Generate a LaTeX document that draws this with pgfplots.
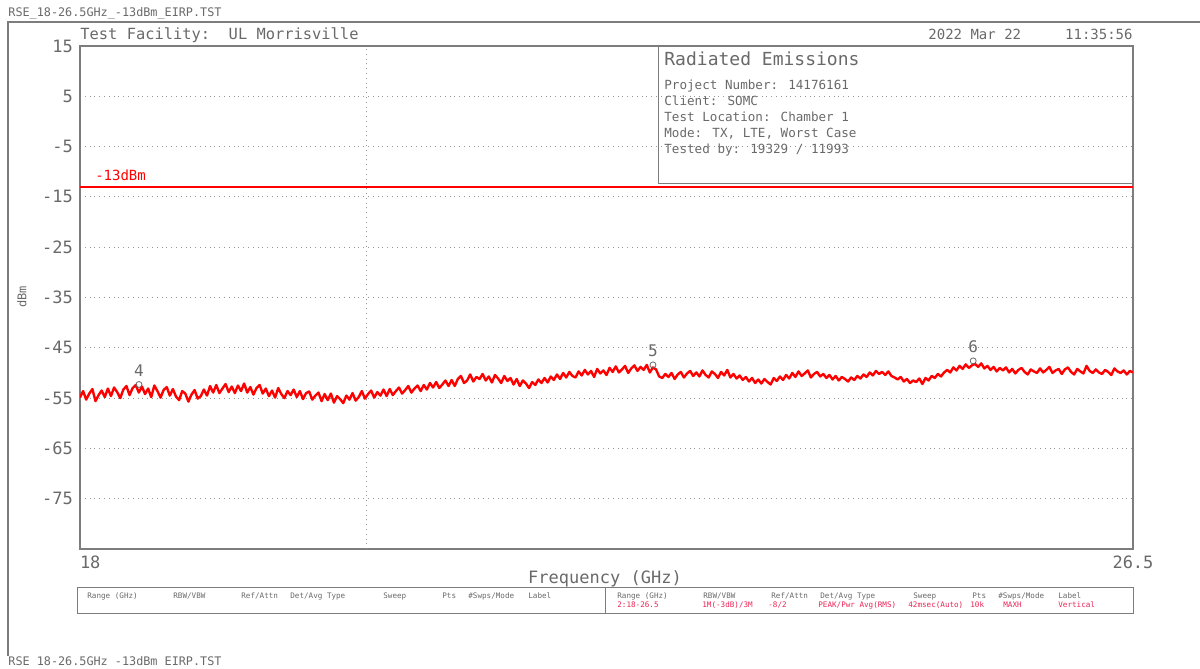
\documentclass[border=0pt]{standalone}
\usepackage{pgfplots}
\pgfplotsset{compat=1.18}
\usepackage{pgfplotstable}
\usepackage{fontspec}
\setmainfont{DejaVu Sans Mono}
\definecolor{txtgray}{RGB}{105,105,105}
\definecolor{framegray}{RGB}{125,125,125}
\definecolor{gridgray}{RGB}{150,150,150}
\definecolor{tblred}{RGB}{235,35,85}
\definecolor{tracered}{RGB}{255,0,0}

\pgfplotstableread[row sep=\\]{
v\\
-54.9\\ -53.6\\ -55.3\\ -54.1\\ -53.2\\ -55.6\\ -54.4\\ -53.5\\ -54.8\\ -53.1\\
-54.6\\ -52.9\\ -53.8\\ -55.0\\ -53.3\\ -52.6\\ -54.4\\ -53.0\\ -52.4\\ -53.9\\
-52.7\\ -54.2\\ -53.1\\ -54.8\\ -52.5\\ -53.6\\ -54.9\\ -53.4\\ -52.8\\ -54.5\\
-53.2\\ -54.7\\ -55.4\\ -53.6\\ -54.1\\ -55.7\\ -54.3\\ -53.4\\ -55.1\\ -54.6\\
-53.3\\ -54.5\\ -52.6\\ -53.9\\ -52.4\\ -54.0\\ -53.1\\ -52.2\\ -53.8\\ -52.7\\
-54.0\\ -52.5\\ -53.6\\ -52.1\\ -53.9\\ -52.8\\ -54.3\\ -53.0\\ -52.4\\ -54.1\\
-53.1\\ -54.6\\ -53.5\\ -54.9\\ -53.0\\ -54.2\\ -55.0\\ -53.6\\ -54.4\\ -53.3\\
-54.8\\ -53.6\\ -55.2\\ -54.0\\ -53.7\\ -55.3\\ -54.5\\ -53.9\\ -55.6\\ -54.2\\
-55.4\\ -54.1\\ -55.9\\ -54.6\\ -55.2\\ -56.0\\ -54.5\\ -55.3\\ -54.0\\ -55.5\\
-54.8\\ -53.6\\ -55.1\\ -54.2\\ -53.5\\ -54.9\\ -53.8\\ -54.5\\ -53.3\\ -54.6\\
-53.2\\ -54.4\\ -53.6\\ -52.9\\ -54.1\\ -53.4\\ -52.6\\ -53.9\\ -53.1\\ -52.5\\
-53.6\\ -52.4\\ -53.3\\ -52.0\\ -52.9\\ -51.8\\ -53.0\\ -52.3\\ -51.5\\ -52.6\\
-51.4\\ -52.6\\ -51.2\\ -50.6\\ -52.0\\ -51.5\\ -50.3\\ -51.7\\ -50.8\\ -51.2\\
-50.2\\ -51.5\\ -50.7\\ -51.9\\ -50.4\\ -51.1\\ -52.0\\ -50.6\\ -51.6\\ -51.0\\
-52.3\\ -51.2\\ -52.6\\ -51.5\\ -52.1\\ -53.0\\ -51.8\\ -52.4\\ -51.3\\ -52.0\\
-51.0\\ -51.9\\ -50.7\\ -51.4\\ -50.3\\ -51.2\\ -50.0\\ -50.9\\ -49.8\\ -50.6\\
-50.9\\ -49.7\\ -50.5\\ -49.4\\ -50.3\\ -49.6\\ -50.8\\ -49.2\\ -50.1\\ -49.5\\
-50.4\\ -49.0\\ -49.8\\ -48.7\\ -49.9\\ -49.3\\ -48.6\\ -50.0\\ -49.1\\ -48.5\\
-49.6\\ -48.8\\ -49.4\\ -48.4\\ -49.9\\ -48.9\\ -49.3\\ -50.7\\ -51.0\\ -50.2\\
-50.8\\ -50.0\\ -51.2\\ -50.3\\ -49.8\\ -50.9\\ -50.1\\ -49.6\\ -50.6\\ -49.9\\
-50.7\\ -49.5\\ -50.4\\ -50.9\\ -49.7\\ -50.2\\ -51.0\\ -49.8\\ -50.5\\ -49.4\\
-50.9\\ -50.2\\ -51.1\\ -50.5\\ -51.4\\ -50.8\\ -51.7\\ -51.0\\ -52.0\\ -51.3\\
-52.1\\ -51.2\\ -51.8\\ -52.3\\ -51.0\\ -51.6\\ -50.7\\ -51.4\\ -50.4\\ -51.1\\
-50.0\\ -50.8\\ -49.7\\ -50.6\\ -50.1\\ -49.5\\ -50.9\\ -50.2\\ -49.8\\ -50.7\\
-50.2\\ -51.0\\ -50.4\\ -51.3\\ -50.6\\ -51.5\\ -50.8\\ -51.2\\ -51.7\\ -50.9\\
-51.4\\ -50.6\\ -51.1\\ -50.3\\ -50.8\\ -49.9\\ -50.5\\ -49.6\\ -50.2\\ -49.8\\
-50.4\\ -49.7\\ -50.6\\ -50.9\\ -51.3\\ -50.8\\ -51.7\\ -51.2\\ -52.0\\ -51.5\\
-51.8\\ -51.1\\ -52.2\\ -51.0\\ -51.5\\ -50.6\\ -51.0\\ -50.2\\ -50.7\\ -49.9\\
-49.4\\ -49.9\\ -48.9\\ -49.5\\ -48.6\\ -49.2\\ -48.3\\ -49.0\\ -48.5\\ -48.2\\
-48.8\\ -48.1\\ -49.1\\ -48.6\\ -49.4\\ -48.8\\ -49.7\\ -49.0\\ -49.5\\ -48.9\\
-49.9\\ -49.2\\ -50.1\\ -49.4\\ -49.0\\ -49.8\\ -50.3\\ -49.3\\ -49.7\\ -50.0\\
-49.1\\ -49.9\\ -49.4\\ -48.8\\ -50.0\\ -49.5\\ -49.2\\ -50.2\\ -49.3\\ -48.9\\
-49.8\\ -50.3\\ -49.2\\ -49.7\\ -50.1\\ -48.6\\ -49.6\\ -50.0\\ -49.3\\ -49.9\\
-50.2\\ -49.4\\ -49.8\\ -50.4\\ -49.1\\ -49.7\\ -50.0\\ -49.5\\ -50.3\\ -49.6\\ -49.9\\
}\trace

\begin{document}
\begin{tikzpicture}
\useasboundingbox (0,0) rectangle (600pt,334.5pt);
\begin{axis}[
  at={(40pt,60pt)}, anchor=south west, scale only axis,
  width=526.5pt, height=251.5pt,
  xmin=18, xmax=26.5, ymin=-85, ymax=15,
  xtick={18,26.5}, xticklabels={\makebox[0pt][l]{18},26.5},
  ytick={15,5,-5,-15,-25,-35,-45,-55,-65,-75},
  ymajorgrids,
  extra x ticks={20.31}, extra x tick labels={}, extra x tick style={grid=major},
  major tick length=0pt,
  grid style={dotted, gridgray, line width=0.5pt},
  axis line style={framegray, line width=0.6pt},
  tick label style={font=\fontsize{8.5}{10}\selectfont, text=txtgray},
  /pgf/number format/assume math mode=true,
  clip=true,
]
\addplot[tracered, line width=1.2pt, line join=round] table[x expr={18+\coordindex*0.025}, y=v] {\trace};
\addplot[tracered, line width=1.1pt] coordinates {(18,-13) (26.5,-13)};
\addplot[only marks, mark=o, mark size=1.5pt, txtgray, mark options={line width=0.4pt},
  nodes near coords, point meta=explicit symbolic,
  nodes near coords style={font=\fontsize{8}{9}\selectfont, text=txtgray, anchor=south, yshift=0.5pt}]
  coordinates {(18.476,-52.3)[4] (22.625,-48.4)[5] (25.21,-47.6)[6]};
\node[anchor=base west, text=tracered, font=\fontsize{7}{8}\selectfont, inner sep=0pt] at (axis cs:18.12,-11.7) {-13dBm};
\draw[framegray, line width=0.6pt] (axis cs:22.673,-12.4) -- (axis cs:22.673,15);
\draw[framegray, line width=0.6pt] (axis cs:22.673,-12.4) -- (axis cs:26.5,-12.4);
\end{axis}
\begin{scope}[x=0.5pt, y=-0.5pt, shift={(0pt,334.5pt)}]
  \draw[framegray, line width=0.6pt] (8,656) -- (8,22) -- (1200,22);
  \node[anchor=base west, inner sep=0pt, text=txtgray, font=\fontsize{5.9}{7}\selectfont] at (8,17) {RSE\_18-26.5GHz\_-13dBm\_EIRP.TST};
  \node[anchor=base west, inner sep=0pt, text=txtgray, font=\fontsize{5.9}{7}\selectfont] at (8,666) {RSE 18-26.5GHz -13dBm EIRP.TST};
  \node[anchor=base west, inner sep=0pt, text=txtgray, font=\fontsize{7.7}{9}\selectfont] at (80,39.5) {Test Facility:~~UL Morrisville};
  \node[anchor=base west, inner sep=0pt, text=txtgray, font=\fontsize{7}{9}\selectfont] at (928,39.5) {2022 Mar 22};
  \node[anchor=base east, inner sep=0pt, text=txtgray, font=\fontsize{7}{9}\selectfont] at (1133,39.5) {11:35:56};
  \node[anchor=base west, inner sep=0pt, text=txtgray, font=\fontsize{9}{10}\selectfont] at (664,66) {Radiated Emissions};
  \foreach \yy/\tt in {89.5/{Project Number: 14176161},105.5/{Client: SOMC},121.5/{Test Location: Chamber 1},137.5/{Mode: TX, LTE, Worst Case},153.5/{Tested by: 19329 / 11993}}
    \node[anchor=base west, inner sep=0pt, text=txtgray, font=\fontsize{6.3}{7}\selectfont] at (664,\yy) {\tt};
  \node[rotate=90, inner sep=0pt, text=txtgray, font=\fontsize{6}{7}\selectfont] at (22,297) {dBm};
  \node[anchor=base, inner sep=0pt, text=txtgray, font=\fontsize{8.5}{10}\selectfont] at (605,584) {Frequency (GHz)};
  % table
  \draw[framegray, line width=0.5pt] (77,588) rectangle (1133,614);
  \draw[framegray, line width=0.5pt] (605,588) -- (605,614);
  \foreach \xo in {0,530}{
    \foreach \xx/\tt in {87/{Range (GHz)},173/{RBW/VBW},241/{Ref/Attn},290/{Det/Avg Type},383/{Sweep},442/{Pts},468/{\#Swps/Mode},528/{Label}}
      \node[anchor=base west, inner sep=0pt, text=txtgray, font=\fontsize{3.8}{4.5}\selectfont] at (\xx+\xo,599) {\tt};
  }
  \foreach \xx/\tt in {617/{2:18-26.5},702/{1M(-3dB)/3M},768/{-8/2},818/{PEAK/Pwr Avg(RMS)},908/{42msec(Auto)},970/{10k},1003/{MAXH},1058/{Vertical}}
    \node[anchor=base west, inner sep=0pt, text=tblred, font=\fontsize{3.8}{4.5}\selectfont] at (\xx,608) {\tt};
\end{scope}
\end{tikzpicture}
\end{document}
